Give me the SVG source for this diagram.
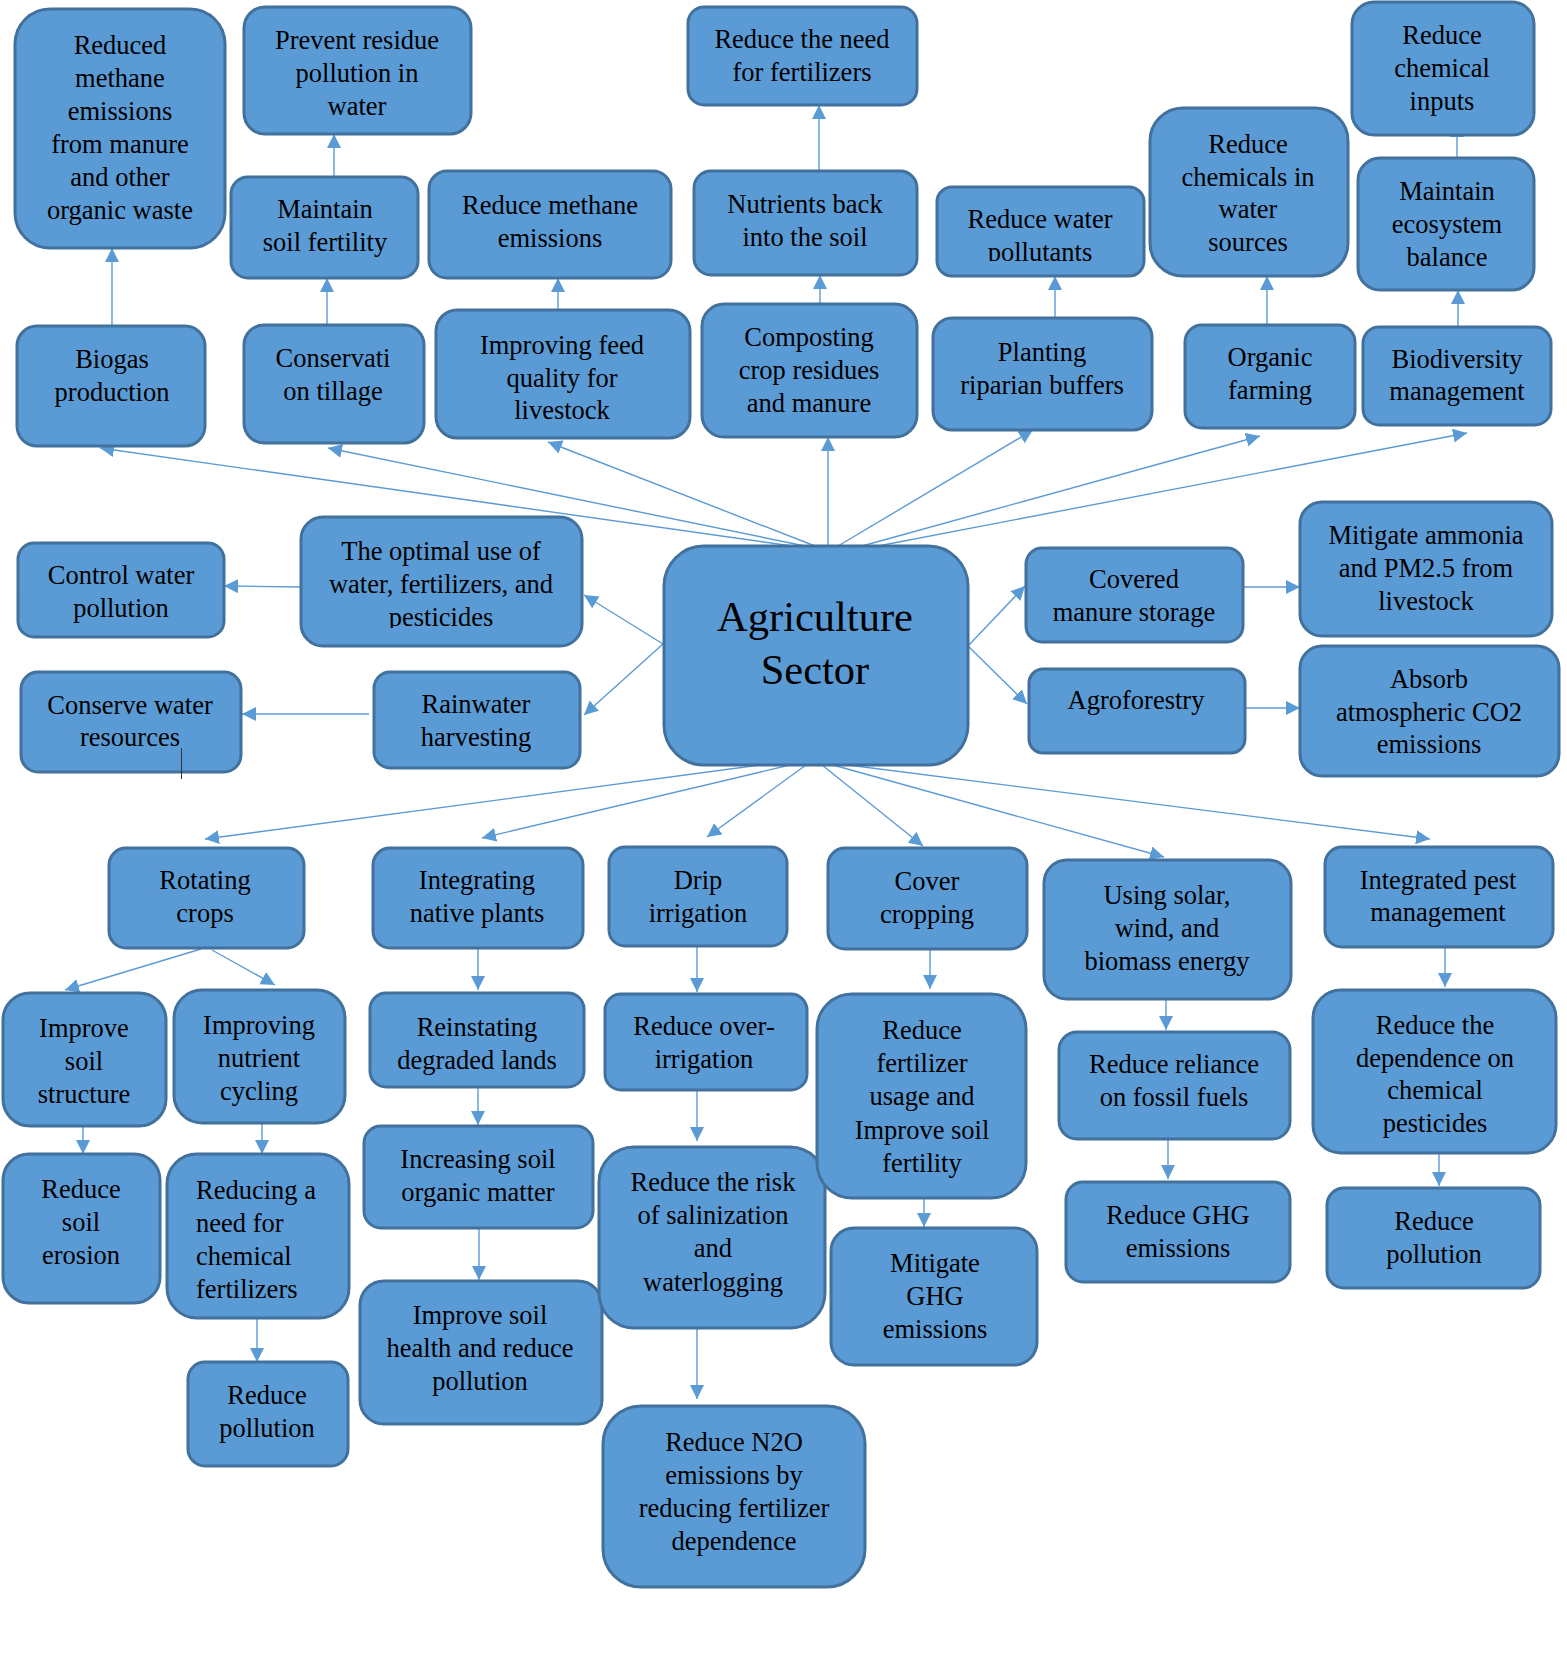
<svg xmlns="http://www.w3.org/2000/svg" width="1567" height="1666" viewBox="0 0 1567 1666">
<style>
.box{fill:#5B9BD5;stroke:#41719C;stroke-width:3}
text{font-family:'Liberation Serif','DejaVu Serif',serif;fill:#000}
.t{font-size:26.5px;text-anchor:middle}
.tl{font-size:26.5px;text-anchor:start}
.big{font-size:42.5px;text-anchor:middle}
.c{stroke:#5B9BD5;stroke-width:1.4;fill:none;marker-end:url(#ah)}
</style>
<defs>
<marker id="ah" markerWidth="16" markerHeight="16" refX="14" refY="7" orient="auto" markerUnits="userSpaceOnUse"><path d="M0,0 L14,7 L0,14 z" fill="#5B9BD5"/></marker>
<clipPath id="clip11"><rect x="930" y="180" width="220" height="81"/></clipPath>
<clipPath id="clip18"><rect x="295" y="510" width="295" height="118"/></clipPath>
</defs>
<rect width="1567" height="1666" fill="#fff"/>
<g id="connectors">
<path class="c" d="M112,326 L112,248"/>
<path class="c" d="M327,325 L327,278"/>
<path class="c" d="M334,177 L334,134"/>
<path class="c" d="M558,310 L558,278"/>
<path class="c" d="M819,171 L819,105"/>
<path class="c" d="M820,304 L820,275"/>
<path class="c" d="M1055,318 L1055,276"/>
<path class="c" d="M1267,325 L1267,276"/>
<path class="c" d="M1457,158 L1457,123"/>
<path class="c" d="M1458,327 L1458,290"/>
<path class="c" d="M792,546 L100,448"/>
<path class="c" d="M805,546 L328,448"/>
<path class="c" d="M815,546 L548,442"/>
<path class="c" d="M828,546 L828,437"/>
<path class="c" d="M838,546 L1033,430"/>
<path class="c" d="M862,546 L1260,436"/>
<path class="c" d="M878,546 L1467,433"/>
<path class="c" d="M663,644 L584,595"/>
<path class="c" d="M663,644 L584,715"/>
<path class="c" d="M301,587 L224,586"/>
<path class="c" d="M369,714 L242,714"/>
<path class="c" d="M968,646 L1025,586"/>
<path class="c" d="M968,646 L1027,704"/>
<path class="c" d="M1243,587 L1300,587"/>
<path class="c" d="M1245,708 L1300,708"/>
<path class="c" d="M760,765 L205,839"/>
<path class="c" d="M790,765 L482,838"/>
<path class="c" d="M806,765 L707,837"/>
<path class="c" d="M822,765 L923,846"/>
<path class="c" d="M833,765 L1164,857"/>
<path class="c" d="M848,765 L1430,839"/>
<path class="c" d="M201,949 L65,990"/>
<path class="c" d="M212,950 L275,985"/>
<path class="c" d="M83,1126 L83,1154"/>
<path class="c" d="M262,1123 L262,1154"/>
<path class="c" d="M257,1318 L257,1362"/>
<path class="c" d="M478,948 L478,990"/>
<path class="c" d="M478,1087 L478,1125"/>
<path class="c" d="M479,1228 L479,1280"/>
<path class="c" d="M697,946 L697,992"/>
<path class="c" d="M697,1090 L697,1141"/>
<path class="c" d="M697,1328 L697,1399"/>
<path class="c" d="M930,949 L930,989"/>
<path class="c" d="M924,1198 L924,1227"/>
<path class="c" d="M1166,999 L1166,1030"/>
<path class="c" d="M1168,1139 L1168,1179"/>
<path class="c" d="M1445,947 L1445,987"/>
<path class="c" d="M1439,1153 L1439,1186"/>
</g>
<g id="n1"><rect class="box" x="15" y="9" width="210" height="239" rx="35"/><text class="t"><tspan x="120" y="54">Reduced</tspan><tspan x="120" y="87">methane</tspan><tspan x="120" y="120">emissions</tspan><tspan x="120" y="153">from manure</tspan><tspan x="120" y="186">and other</tspan><tspan x="120" y="219">organic waste</tspan></text></g>
<g id="n2"><rect class="box" x="244" y="7" width="227" height="127" rx="21"/><text class="t"><tspan x="357" y="49">Prevent residue</tspan><tspan x="357" y="82">pollution in</tspan><tspan x="357" y="115">water</tspan></text></g>
<g id="n3"><rect class="box" x="231" y="177" width="187" height="101" rx="17"/><text class="t"><tspan x="325" y="218">Maintain</tspan><tspan x="325" y="251">soil fertility</tspan></text></g>
<g id="n4"><rect class="box" x="17" y="326" width="188" height="120" rx="20"/><text class="t"><tspan x="112" y="368">Biogas</tspan><tspan x="112" y="401">production</tspan></text></g>
<g id="n5"><rect class="box" x="244" y="325" width="180" height="118" rx="20"/><text class="t"><tspan x="333" y="367">Conservati</tspan><tspan x="333" y="400">on tillage</tspan></text></g>
<g id="n6"><rect class="box" x="429" y="171" width="242" height="107" rx="18"/><text class="t"><tspan x="550" y="214">Reduce methane</tspan><tspan x="550" y="247">emissions</tspan></text></g>
<g id="n7"><rect class="box" x="436" y="310" width="254" height="128" rx="21"/><text class="t"><tspan x="562" y="354">Improving feed</tspan><tspan x="562" y="387">quality for</tspan><tspan x="562" y="419">livestock</tspan></text></g>
<g id="n8"><rect class="box" x="688" y="7" width="229" height="98" rx="16"/><text class="t"><tspan x="802" y="48">Reduce the need</tspan><tspan x="802" y="81">for fertilizers</tspan></text></g>
<g id="n9"><rect class="box" x="694" y="171" width="223" height="104" rx="17"/><text class="t"><tspan x="805" y="213">Nutrients back</tspan><tspan x="805" y="246">into the soil</tspan></text></g>
<g id="n10"><rect class="box" x="702" y="304" width="215" height="133" rx="22"/><text class="t"><tspan x="809" y="346">Composting</tspan><tspan x="809" y="379">crop residues</tspan><tspan x="809" y="412">and manure</tspan></text></g>
<g id="n11"><rect class="box" x="937" y="187" width="207" height="89" rx="15"/><text class="t" clip-path="url(#clip11)"><tspan x="1040" y="228">Reduce water</tspan><tspan x="1040" y="261">pollutants</tspan></text></g>
<g id="n12"><rect class="box" x="933" y="318" width="219" height="112" rx="19"/><text class="t"><tspan x="1042" y="361">Planting</tspan><tspan x="1042" y="394">riparian buffers</tspan></text></g>
<g id="n13"><rect class="box" x="1150" y="108" width="198" height="168" rx="33"/><text class="t"><tspan x="1248" y="153">Reduce</tspan><tspan x="1248" y="186">chemicals in</tspan><tspan x="1248" y="218">water</tspan><tspan x="1248" y="251">sources</tspan></text></g>
<g id="n14"><rect class="box" x="1185" y="325" width="170" height="103" rx="17"/><text class="t"><tspan x="1270" y="366">Organic</tspan><tspan x="1270" y="399">farming</tspan></text></g>
<g id="n15"><rect class="box" x="1352" y="2" width="182" height="133" rx="22"/><text class="t"><tspan x="1442" y="44">Reduce</tspan><tspan x="1442" y="77">chemical</tspan><tspan x="1442" y="110">inputs</tspan></text></g>
<g id="n16"><rect class="box" x="1358" y="158" width="176" height="132" rx="22"/><text class="t"><tspan x="1447" y="200">Maintain</tspan><tspan x="1447" y="233">ecosystem</tspan><tspan x="1447" y="266">balance</tspan></text></g>
<g id="n17"><rect class="box" x="1363" y="327" width="188" height="98" rx="16"/><text class="t"><tspan x="1457" y="368">Biodiversity</tspan><tspan x="1457" y="400">management</tspan></text></g>
<g id="center"><rect class="box" x="664" y="546" width="304" height="219" rx="40"/><text class="big"><tspan x="815" y="631">Agriculture</tspan><tspan x="815" y="684">Sector</tspan></text></g>
<g id="n18"><rect class="box" x="301" y="517" width="281" height="129" rx="22"/><text class="t" clip-path="url(#clip18)"><tspan x="441" y="560">The optimal use of</tspan><tspan x="441" y="593">water, fertilizers, and</tspan><tspan x="441" y="626">pesticides</tspan></text></g>
<g id="n19"><rect class="box" x="18" y="543" width="206" height="94" rx="16"/><text class="t"><tspan x="121" y="584">Control water</tspan><tspan x="121" y="617">pollution</tspan></text></g>
<g id="n20"><rect class="box" x="21" y="672" width="220" height="100" rx="17"/><text class="t"><tspan x="130" y="714">Conserve water</tspan><tspan x="130" y="746">resources</tspan></text><line x1="181.5" y1="748" x2="181.5" y2="779" stroke="#333" stroke-width="1"/></g>
<g id="n21"><rect class="box" x="374" y="672" width="206" height="96" rx="16"/><text class="t"><tspan x="476" y="713">Rainwater</tspan><tspan x="476" y="746">harvesting</tspan></text></g>
<g id="n22"><rect class="box" x="1026" y="548" width="217" height="94" rx="16"/><text class="t"><tspan x="1134" y="588">Covered</tspan><tspan x="1134" y="621">manure storage</tspan></text></g>
<g id="n23"><rect class="box" x="1029" y="669" width="216" height="84" rx="14"/><text class="t"><tspan x="1136" y="709">Agroforestry</tspan></text></g>
<g id="n24"><rect class="box" x="1300" y="502" width="252" height="134" rx="22"/><text class="t"><tspan x="1426" y="544">Mitigate ammonia</tspan><tspan x="1426" y="577">and PM2.5 from</tspan><tspan x="1426" y="610">livestock</tspan></text></g>
<g id="n25"><rect class="box" x="1300" y="646" width="259" height="130" rx="22"/><text class="t"><tspan x="1429" y="688">Absorb</tspan><tspan x="1429" y="721">atmospheric CO2</tspan><tspan x="1429" y="753">emissions</tspan></text></g>
<g id="n26"><rect class="box" x="109" y="848" width="195" height="100" rx="17"/><text class="t"><tspan x="205" y="889">Rotating</tspan><tspan x="205" y="922">crops</tspan></text></g>
<g id="n27"><rect class="box" x="3" y="993" width="163" height="133" rx="27"/><text class="t"><tspan x="84" y="1037">Improve</tspan><tspan x="84" y="1070">soil</tspan><tspan x="84" y="1103">structure</tspan></text></g>
<g id="n28"><rect class="box" x="174" y="990" width="171" height="133" rx="28"/><text class="t"><tspan x="259" y="1034">Improving</tspan><tspan x="259" y="1067">nutrient</tspan><tspan x="259" y="1100">cycling</tspan></text></g>
<g id="n29"><rect class="box" x="3" y="1154" width="157" height="149" rx="26"/><text class="t"><tspan x="81" y="1198">Reduce</tspan><tspan x="81" y="1231">soil</tspan><tspan x="81" y="1264">erosion</tspan></text></g>
<g id="n30"><rect class="box" x="167" y="1154" width="182" height="164" rx="30"/><text class="tl"><tspan x="196" y="1199">Reducing a</tspan><tspan x="196" y="1232">need for</tspan><tspan x="196" y="1265">chemical</tspan><tspan x="196" y="1298">fertilizers</tspan></text></g>
<g id="n31"><rect class="box" x="188" y="1362" width="160" height="104" rx="17"/><text class="t"><tspan x="267" y="1404">Reduce</tspan><tspan x="267" y="1437">pollution</tspan></text></g>
<g id="n32"><rect class="box" x="373" y="848" width="210" height="100" rx="17"/><text class="t"><tspan x="477" y="889">Integrating</tspan><tspan x="477" y="922">native plants</tspan></text></g>
<g id="n33"><rect class="box" x="370" y="993" width="214" height="94" rx="16"/><text class="t"><tspan x="477" y="1036">Reinstating</tspan><tspan x="477" y="1069">degraded lands</tspan></text></g>
<g id="n34"><rect class="box" x="364" y="1126" width="229" height="102" rx="17"/><text class="t"><tspan x="478" y="1168">Increasing soil</tspan><tspan x="478" y="1201">organic matter</tspan></text></g>
<g id="n35"><rect class="box" x="360" y="1281" width="242" height="143" rx="24"/><text class="t"><tspan x="480" y="1324">Improve soil</tspan><tspan x="480" y="1357">health and reduce</tspan><tspan x="480" y="1390">pollution</tspan></text></g>
<g id="n36"><rect class="box" x="609" y="847" width="178" height="99" rx="16"/><text class="t"><tspan x="698" y="889">Drip</tspan><tspan x="698" y="922">irrigation</tspan></text></g>
<g id="n37"><rect class="box" x="605" y="994" width="202" height="96" rx="16"/><text class="t"><tspan x="704" y="1035">Reduce over-</tspan><tspan x="704" y="1068">irrigation</tspan></text></g>
<g id="n38"><rect class="box" x="599" y="1147" width="226" height="181" rx="35"/><text class="t"><tspan x="713" y="1191">Reduce the risk</tspan><tspan x="713" y="1224">of salinization</tspan><tspan x="713" y="1257">and</tspan><tspan x="713" y="1291">waterlogging</tspan></text></g>
<g id="n39"><rect class="box" x="603" y="1406" width="262" height="181" rx="38"/><text class="t"><tspan x="734" y="1451">Reduce N2O</tspan><tspan x="734" y="1484">emissions by</tspan><tspan x="734" y="1517">reducing fertilizer</tspan><tspan x="734" y="1550">dependence</tspan></text></g>
<g id="n40"><rect class="box" x="828" y="848" width="199" height="101" rx="17"/><text class="t"><tspan x="927" y="890">Cover</tspan><tspan x="927" y="923">cropping</tspan></text></g>
<g id="n41"><rect class="box" x="817" y="994" width="209" height="204" rx="35"/><text class="t"><tspan x="922" y="1039">Reduce</tspan><tspan x="922" y="1072">fertilizer</tspan><tspan x="922" y="1105">usage and</tspan><tspan x="922" y="1139">Improve soil</tspan><tspan x="922" y="1172">fertility</tspan></text></g>
<g id="n42"><rect class="box" x="831" y="1228" width="206" height="137" rx="23"/><text class="t"><tspan x="935" y="1272">Mitigate</tspan><tspan x="935" y="1305">GHG</tspan><tspan x="935" y="1338">emissions</tspan></text></g>
<g id="n43"><rect class="box" x="1044" y="860" width="247" height="139" rx="23"/><text class="t"><tspan x="1167" y="904">Using solar,</tspan><tspan x="1167" y="937">wind, and</tspan><tspan x="1167" y="970">biomass energy</tspan></text></g>
<g id="n44"><rect class="box" x="1059" y="1032" width="231" height="107" rx="18"/><text class="t"><tspan x="1174" y="1073">Reduce reliance</tspan><tspan x="1174" y="1106">on fossil fuels</tspan></text></g>
<g id="n45"><rect class="box" x="1066" y="1182" width="224" height="100" rx="17"/><text class="t"><tspan x="1178" y="1224">Reduce GHG</tspan><tspan x="1178" y="1257">emissions</tspan></text></g>
<g id="n46"><rect class="box" x="1325" y="847" width="228" height="100" rx="17"/><text class="t"><tspan x="1438" y="889">Integrated pest</tspan><tspan x="1438" y="921">management</tspan></text></g>
<g id="n47"><rect class="box" x="1313" y="990" width="243" height="163" rx="28"/><text class="t"><tspan x="1435" y="1034">Reduce the</tspan><tspan x="1435" y="1067">dependence on</tspan><tspan x="1435" y="1099">chemical</tspan><tspan x="1435" y="1132">pesticides</tspan></text></g>
<g id="n48"><rect class="box" x="1327" y="1188" width="213" height="100" rx="17"/><text class="t"><tspan x="1434" y="1230">Reduce</tspan><tspan x="1434" y="1263">pollution</tspan></text></g>
</svg>
